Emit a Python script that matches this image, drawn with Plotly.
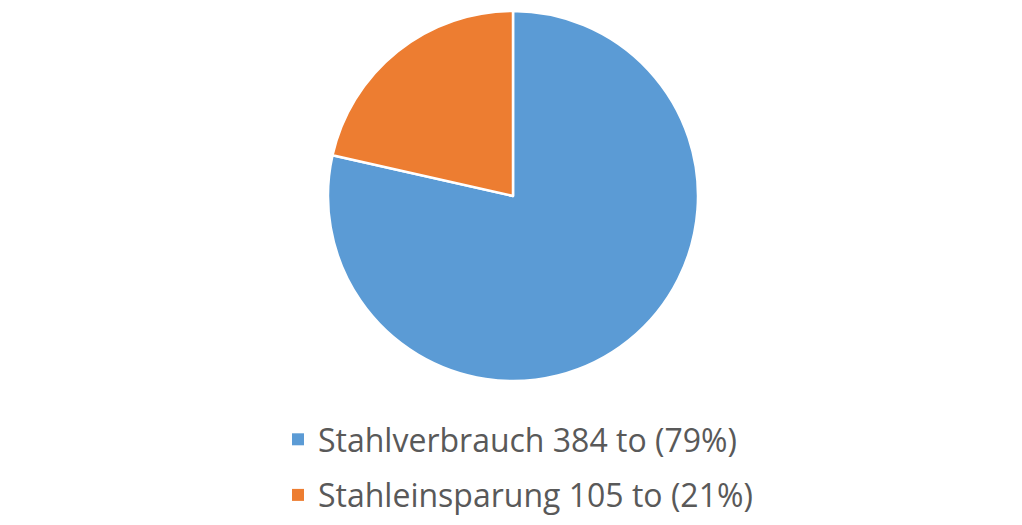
import plotly.graph_objects as go

labels = ["Stahlverbrauch 384 to (79%)", "Stahleinsparung 105 to (21%)"]
values = [384, 105]
colors = ["#5B9BD5", "#ED7D31"]

W, H = 1022, 525
off = 8  # default page body margin

fig = go.Figure(go.Pie(
    labels=labels,
    values=values,
    sort=False,
    direction="clockwise",
    rotation=0,
    marker=dict(colors=colors, line=dict(color="white", width=2.5)),
    textinfo="none",
    hoverinfo="label",
    showlegend=False,
    domain=dict(x=[(328 - off) / W, (698 - off) / W],
                y=[1 - (381 - off) / H, 1 - (11 - off) / H]),
))

# legend entries (square swatches), one group each so the gap can be set
for lab, col in zip(labels, colors):
    fig.add_trace(go.Scatter(
        x=[None], y=[None], mode="markers", name=lab, legendgroup=lab,
        marker=dict(symbol="square", size=12, color=col),
        hoverinfo="skip",
    ))

fig.update_layout(
    width=W, height=H,
    margin=dict(l=0, r=0, t=0, b=0),
    paper_bgcolor="white",
    plot_bgcolor="white",
    font=dict(family="Open Sans", color="#595959"),
    xaxis=dict(visible=False),
    yaxis=dict(visible=False),
    legend=dict(
        orientation="v",
        x=(518 - off) / W, xanchor="center",
        y=1 - (412 - off) / H, yanchor="top",
        font=dict(size=32, color="#595959", family="Open Sans"),
        tracegroupgap=11,
        itemsizing="trace",
    ),
)

fig.write_html("out.html")
